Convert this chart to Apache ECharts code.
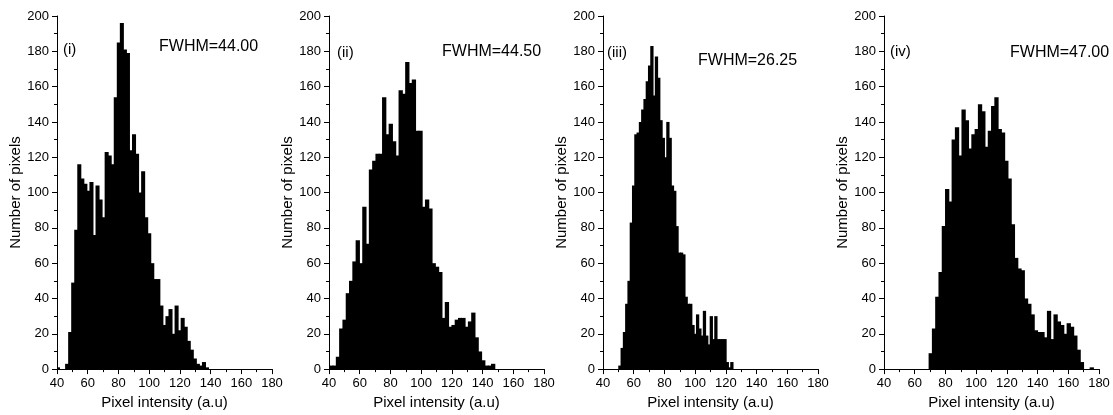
<!DOCTYPE html>
<html>
<head>
<meta charset="utf-8">
<script src="https://cdn.jsdelivr.net/npm/echarts@6/dist/echarts.min.js"></script>
<style>
html,body{margin:0;padding:0;background:#fff;}
#chart{width:1113px;height:415px;}
</style>
</head>
<body>
<div id="chart"></div>
<script>
// ---- data ----
const panelTags = ['(i)', '(ii)', '(iii)', '(iv)'];
const fwhmLabels = ['FWHM=44.00', 'FWHM=44.50', 'FWHM=26.25', 'FWHM=47.00'];
const binStart = [39.6, 40.4, 50.2, 69.3];   // first bin edge (a.u)
const binWidth = [1.98, 2.15, 1.488, 2.14];  // bin width (a.u)
const counts1 = [1,0,0,3,21,49,79,116,108,105, 101,106,76,104,96,86,123,121,116,154,
                 185,196,181,179,124,133,122,100,112,86, 77,60,51,51,36,25,30,34,20,36,
                 22,29,24,16,11,6,3,2,4,1];
const counts2 = [2,2,7,23,28,43,50,61,73,60, 92,71,113,118,122,122,154,133,139,129,
                 121,158,156,174,162,164,135,135,92,96, 91,60,58,55,29,38,24,25,28,29,
                 29,24,27,32,18,10,5,2,2,3];
const counts3 = [2,12,21,37,50,83,104,133,134,140, 147,153,163,172,183,155,177,165,141,131,
                 120,140,131,104,101,81,66,66,65,41, 37,37,25,20,31,23,19,33,19,14,
                 30,17,30,17,17,17,17,4,1,4];
const counts4 = [9,23,41,55,81,102,95,130,137,121, 147,141,125,133,136,150,146,126,135,149,
                 154,136,134,118,108,82,63,57,56,40, 37,31,22,21,21,18,33,17,31,27,
                 25,20,26,24,19,11,4,0,0,1];
const allCounts = [counts1, counts2, counts3, counts4];
const xMin = 40, xMax = 180, xStep = 20;
const yMin = 0, yMax = 200, yStep = 20;
const xName = 'Pixel intensity (a.u)';
const yName = 'Number of pixels';

// ---- layout ----
const gridLefts = [57, 329, 603, 884];
const gridTop = 16, gridW = 215, gridH = 361;
const tagPos = [[63, 42], [337, 45], [607, 45], [890, 44]];
const fwhmPos = [[159, 39], [442, 44], [698, 53], [1010, 45]];
const FONT = '"Liberation Sans", Arial, sans-serif';

function histData(k) {
  return allCounts[k].map((c, i) => [binStart[k] + i * binWidth[k], binStart[k] + (i + 1) * binWidth[k], c]);
}

function renderBar(params, api) {
  if (api.value(2) <= 0) return;
  const p0 = api.coord([api.value(0), api.value(2)]);
  const p1 = api.coord([api.value(1), 0]);
  const rect = echarts.graphic.clipRectByRect(
    { x: p0[0] - 0.4, y: p0[1], width: p1[0] - p0[0] + 1.0, height: p1[1] - p0[1] },
    { x: params.coordSys.x, y: params.coordSys.y, width: params.coordSys.width, height: params.coordSys.height }
  );
  if (!rect) return;
  return { type: 'rect', shape: rect, style: { fill: '#000', stroke: null } };
}

const grids = [], xAxes = [], yAxes = [], series = [], graphics = [];
for (let k = 0; k < 4; k++) {
  grids.push({ left: gridLefts[k], top: gridTop, width: gridW, height: gridH, containLabel: false });
  xAxes.push({
    type: 'value', gridIndex: k, min: xMin, max: xMax, interval: xStep,
    name: xName, nameLocation: 'middle', nameGap: 23,
    nameTextStyle: { fontFamily: FONT, fontSize: 15, color: '#000' },
    axisLine: { show: true, onZero: false, lineStyle: { color: '#000', width: 1 } },
    axisTick: { show: true, inside: false, length: 5, lineStyle: { color: '#000' } },
    minorTick: { show: true, splitNumber: 2, length: 3, lineStyle: { color: '#000' } },
    axisLabel: { fontFamily: FONT, fontSize: 13, color: '#000', margin: 8, showMinLabel: true, showMaxLabel: true },
    splitLine: { show: false }
  });
  yAxes.push({
    type: 'value', gridIndex: k, min: yMin, max: yMax, interval: yStep,
    name: yName, nameLocation: 'middle', nameGap: 33,
    nameTextStyle: { fontFamily: FONT, fontSize: 15, color: '#000' },
    axisLine: { show: true, onZero: false, lineStyle: { color: '#000', width: 1 } },
    axisTick: { show: true, inside: false, length: 5, lineStyle: { color: '#000' } },
    minorTick: { show: true, splitNumber: 2, length: 3, lineStyle: { color: '#000' } },
    axisLabel: { fontFamily: FONT, fontSize: 13, color: '#000', margin: 8, showMinLabel: true, showMaxLabel: true },
    splitLine: { show: false }
  });
  series.push({
    type: 'custom', xAxisIndex: k, yAxisIndex: k,
    renderItem: renderBar, encode: { x: [0, 1], y: 2 },
    data: histData(k), silent: true, animation: false
  });
  graphics.push({ type: 'text', left: tagPos[k][0], top: tagPos[k][1],
    style: { text: panelTags[k], font: '15px ' + FONT, fill: '#000' } });
  graphics.push({ type: 'text', left: fwhmPos[k][0], top: fwhmPos[k][1],
    style: { text: fwhmLabels[k], font: '16px ' + FONT, fill: '#000' } });
}

const chart = echarts.init(document.getElementById('chart'), null, { renderer: 'canvas' });
chart.setOption({
  animation: false,
  backgroundColor: '#fff',
  grid: grids, xAxis: xAxes, yAxis: yAxes, series: series, graphic: graphics
});
</script>
</body>
</html>
